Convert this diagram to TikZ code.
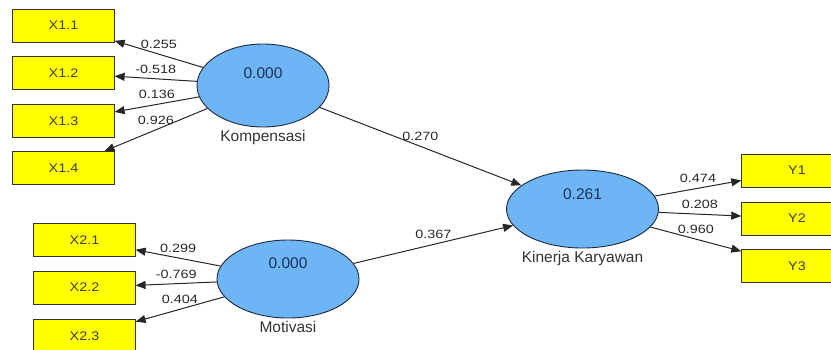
\documentclass[tikz,border=0pt]{standalone}
\usepackage{fontspec}
\setmainfont{Liberation Sans}
\usetikzlibrary{arrows.meta,shapes.geometric}

\definecolor{indyellow}{RGB}{255,255,0}
\definecolor{lvblue}{RGB}{110,181,246}
\definecolor{lvline}{RGB}{30,40,60}
\definecolor{valtext}{RGB}{28,48,88}
\definecolor{wttext}{RGB}{40,40,40}

\tikzset{
  ind/.style={draw=black!80, fill=indyellow, line width=0.9pt, minimum width=88pt, minimum height=33pt, inner sep=0pt, font=\fontsize{12.5}{14}\selectfont, text=black!75, xscale=1.15},
  indy/.style={ind, minimum width=96pt},
  lv/.style={draw=lvline, fill=lvblue, ellipse, line width=0.9pt, inner sep=0pt},
  val/.style={font=\fontsize{15.5}{17}\selectfont, text=valtext, inner sep=0pt},
  lvname/.style={font=\fontsize{15.5}{17}\selectfont, text=black!80, inner sep=2.5pt},
  link/.style={draw=black!85, line width=1pt, -{Triangle[length=10pt,width=8pt]}},
  wt/.style={font=\fontsize{12}{14}\selectfont, text=wttext, xscale=1.2, above=4pt, inner sep=1pt}
}

\begin{document}
\begin{tikzpicture}[x=1pt,y=-1pt]
\useasboundingbox (0,0) rectangle (831,349);
\clip (0,0) rectangle (831,349);

% indicators
\path (63.5,25.5) node[ind] (x11) {X1.1};
\path (63.5,73)   node[ind] (x12) {X1.2};
\path (63.5,121)  node[ind] (x13) {X1.3};
\path (63.5,168)  node[ind] (x14) {X1.4};

\path (84.5,240)   node[ind] (x21) {X2.1};
\path (84.5,287.5) node[ind] (x22) {X2.2};
\path (84.5,336)   node[ind] (x23) {X2.3};

\path (797,170.5) node[indy] (y1) {Y1};
\path (797,218.5) node[indy] (y2) {Y2};
\path (797,266)   node[indy] (y3) {Y3};

% latent variables
\path (263,85.5) node[lv, minimum width=132pt, minimum height=83pt,
  label={[val,yshift=12.5pt]center:0.000},
  label={[lvname]below:Kompensasi}] (komp) {};
\path (288,279) node[lv, minimum width=142pt, minimum height=78pt,
  label={[val,yshift=16pt]center:0.000},
  label={[lvname]below:Motivasi}] (motiv) {};
\path (582.5,209) node[lv, minimum width=152pt, minimum height=78pt,
  label={[val,yshift=15pt]center:0.261},
  label={[lvname]below:Kinerja Karyawan}] (kin) {};

% loadings
\draw[link] (komp) -- node[wt] {0.255} (x11);
\draw[link] (komp) -- node[wt] {-0.518} (x12);
\draw[link] (komp) -- node[wt] {0.136} (x13);
\draw[link] (komp) -- node[wt] {0.926} (x14);

\draw[link] (motiv) -- node[wt] {0.299} (x21);
\draw[link] (motiv) -- node[wt] {-0.769} (x22);
\draw[link] (motiv) -- node[wt] {0.404} (x23);

\draw[link] (kin) -- node[wt] {0.474} (y1);
\draw[link] (kin) -- node[wt] {0.208} (y2);
\draw[link] (kin) -- node[wt] {0.960} (y3);

% paths
\draw[link] (komp) -- node[wt] {0.270} (kin);
\draw[link] (motiv) -- node[wt] {0.367} (kin);

\end{tikzpicture}
\end{document}
